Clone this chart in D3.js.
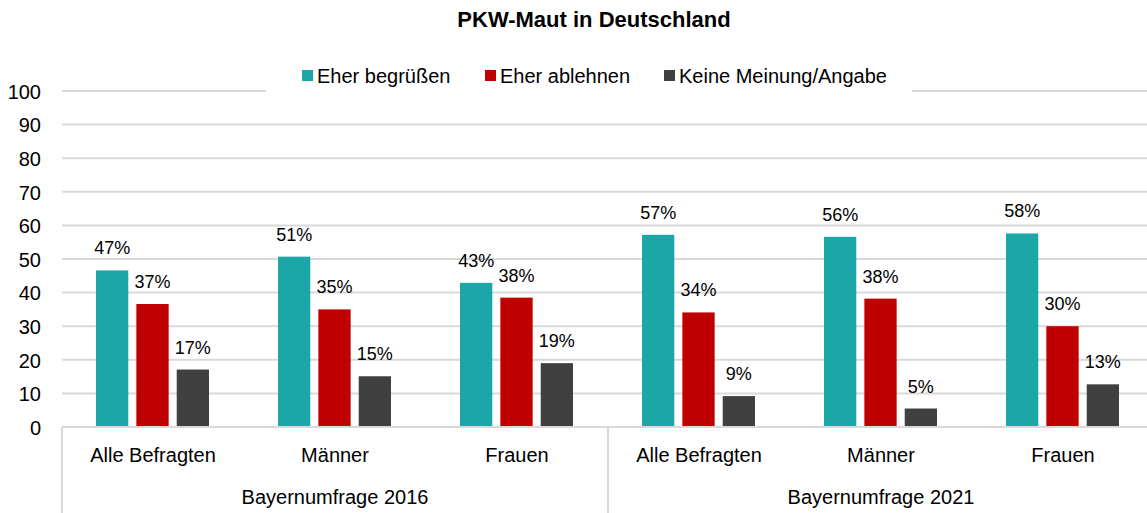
<!DOCTYPE html>
<html>
<head>
<meta charset="utf-8">
<script src="https://cdn.jsdelivr.net/npm/d3@7"></script>
<style>
    body { margin: 0; background: #fff; }
    text { font-family: "Liberation Sans", Arial, sans-serif; fill: #000; }
</style>
</head>
<body>
<div id="chart"></div>
<script>
// data
const groups = ["Bayernumfrage 2016", "Bayernumfrage 2021"];
const categories = ["Alle Befragten", "Männer", "Frauen"];
const seriesNames = ["Eher begrüßen", "Eher ablehnen", "Keine Meinung/Angabe"];
const seriesColors = ["#1ba6a8", "#c00000", "#404040"];
// bar heights per category (2016 then 2021), one array per series
const begruessen = [46.6, 50.7, 42.9, 57.2, 56.6, 57.6];
const ablehnen = [36.6, 35.0, 38.5, 34.1, 38.2, 30.0];
const keine = [17.1, 15.1, 19.0, 9.2, 5.5, 12.7];
const labelsBegruessen = ["47%", "51%", "43%", "57%", "56%", "58%"];
const labelsAblehnen = ["37%", "35%", "38%", "34%", "38%", "30%"];
const labelsKeine = ["17%", "15%", "19%", "9%", "5%", "13%"];
const yTicks = [0, 10, 20, 30, 40, 50, 60, 70, 80, 90, 100];

const width = 1147, height = 513;
const margin = { top: 91, left: 62, bottom: 86 };
const plotW = 1092;  // runs past the right edge like the original
const plotH = height - margin.top - margin.bottom;

const svg = d3.select("#chart").append("svg")
    .attr("width", width)
    .attr("height", height);

// title
svg.append("text")
    .attr("x", 594).attr("y", 27)
    .attr("text-anchor", "middle")
    .style("font-size", "22px")
    .style("font-weight", "bold")
    .text("PKW-Maut in Deutschland");

const g = svg.append("g")
    .attr("transform", `translate(${margin.left},${margin.top})`);

const slots = [];
groups.forEach(gr => categories.forEach(c => slots.push(gr + "|" + c)));

const x = d3.scaleBand().domain(slots).range([0, plotW]);
const xInner = d3.scaleBand().domain(seriesNames).range([34, 147]).paddingInner(0.2);
const y = d3.scaleLinear().domain([0, 100]).range([plotH, 0]);

// gridlines
g.append("g").selectAll("line").data(yTicks.filter(d => d > 0)).join("line")
    .attr("x1", 0).attr("x2", plotW)
    .attr("y1", d => y(d)).attr("y2", d => y(d))
    .attr("stroke", "#d9d9d9").attr("stroke-width", 2);

// y axis labels
const yAxis = d3.axisLeft(y).tickValues(yTicks).tickSize(0).tickPadding(21);
g.append("g").call(yAxis)
    .call(a => a.select(".domain").remove())
    .selectAll("text")
    .style("font-size", "20px")
    .attr("dy", "0.36em");

// bars
const series = [
    { name: seriesNames[0], values: begruessen, labels: labelsBegruessen, color: seriesColors[0] },
    { name: seriesNames[1], values: ablehnen, labels: labelsAblehnen, color: seriesColors[1] },
    { name: seriesNames[2], values: keine, labels: labelsKeine, color: seriesColors[2] }
];

series.forEach(s => {
    const sg = g.append("g");
    sg.selectAll("rect").data(s.values).join("rect")
        .attr("x", (d, i) => x(slots[i]) + xInner(s.name))
        .attr("y", d => y(d))
        .attr("width", xInner.bandwidth())
        .attr("height", d => plotH - y(d))
        .attr("fill", s.color);
    sg.selectAll("text").data(s.values).join("text")
        .attr("x", (d, i) => x(slots[i]) + xInner(s.name) + xInner.bandwidth() / 2)
        .attr("y", d => y(d) - 16)
        .attr("text-anchor", "middle")
        .style("font-size", "18px")
        .text((d, i) => s.labels[i]);
});

// x axis line + separators
g.append("line")
    .attr("x1", 0).attr("x2", plotW)
    .attr("y1", plotH).attr("y2", plotH)
    .attr("stroke", "#d9d9d9").attr("stroke-width", 2);

const groupW = x.step() * categories.length;
[0, 1, 2].forEach(i => {
    g.append("line")
        .attr("x1", i * groupW).attr("x2", i * groupW)
        .attr("y1", plotH).attr("y2", plotH + 90)
        .attr("stroke", "#d9d9d9").attr("stroke-width", 2);
});

// category labels
g.append("g").selectAll("text").data(slots).join("text")
    .attr("x", d => x(d) + x.bandwidth() / 2)
    .attr("y", plotH + 35)
    .attr("text-anchor", "middle")
    .style("font-size", "20px")
    .text(d => d.split("|")[1]);

// group labels
g.append("g").selectAll("text").data(groups).join("text")
    .attr("x", (d, i) => i * groupW + groupW / 2)
    .attr("y", plotH + 77)
    .attr("text-anchor", "middle")
    .style("font-size", "20px")
    .text(d => d);

// legend with white background over the 100 gridline
const legend = svg.append("g");
legend.append("rect")
    .attr("x", 266).attr("y", 62)
    .attr("width", 646).attr("height", 36)
    .attr("fill", "#fff");
const legendX = [302, 485, 664];
seriesNames.forEach((n, i) => {
    legend.append("rect")
        .attr("x", legendX[i]).attr("y", 70)
        .attr("width", 11).attr("height", 11)
        .attr("fill", seriesColors[i]);
    legend.append("text")
        .attr("x", legendX[i] + 15).attr("y", 83)
        .style("font-size", "20px")
        .text(n);
});
</script>
</body>
</html>
